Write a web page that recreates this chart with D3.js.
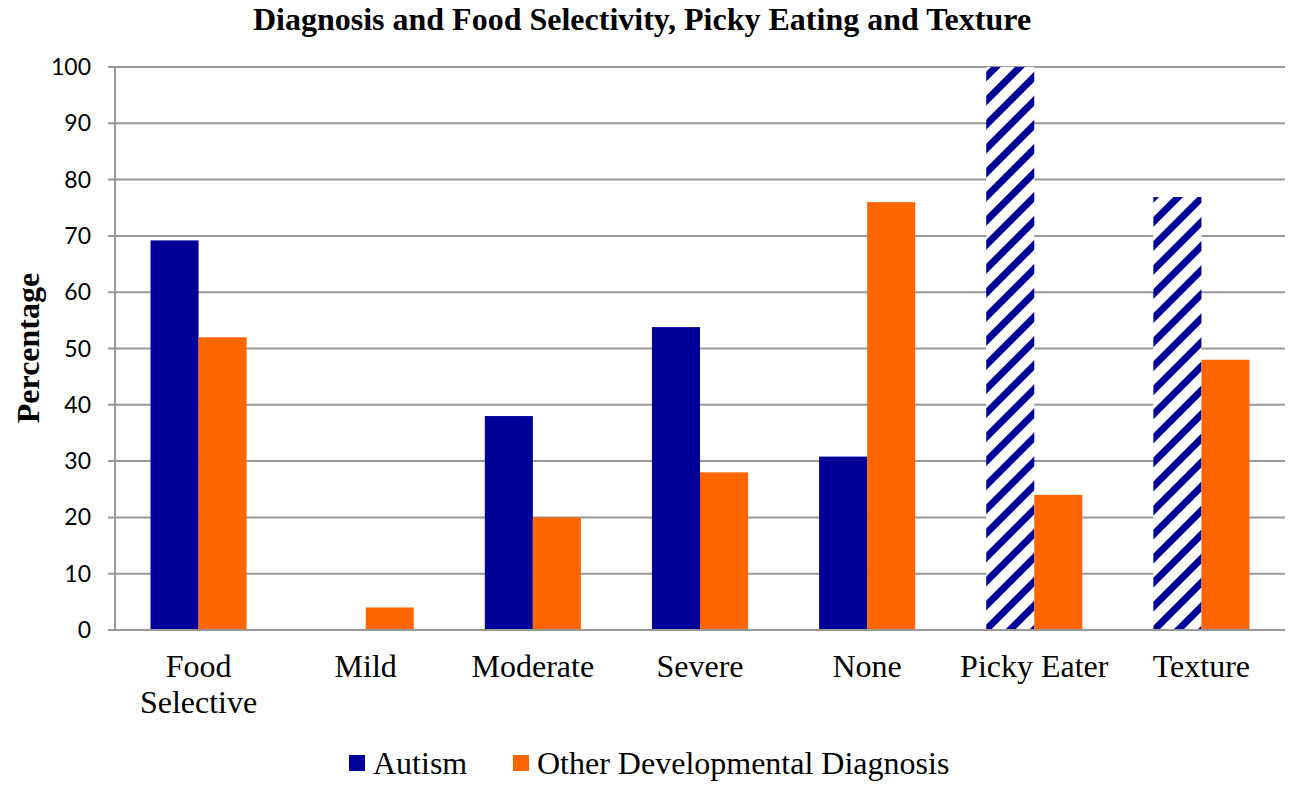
<!DOCTYPE html>
<html>
<head>
<meta charset="utf-8">
<script src="https://cdn.jsdelivr.net/npm/d3@7"></script>
<style>
  body { margin: 0; background: #fff; }
</style>
</head>
<body>
<svg id="chart" width="1291" height="792"></svg>
<script>
// data
var categories = [['Food', 'Selective'], ['Mild'], ['Moderate'], ['Severe'], ['None'], ['Picky Eater'], ['Texture']]
var autism = [69.2, 0, 38, 53.8, 30.8, 100, 76.9]
var other = [52, 4, 20, 28, 76, 24, 48]
// which autism bars are drawn hatched
var hatched = [false, false, false, false, false, true, true]
var yTicks = [0, 10, 20, 30, 40, 50, 60, 70, 80, 90, 100]

var colorAutism = '#000099'
var colorOther = '#ff6600'
var colorGrid = '#989898'
var serif = '"Liberation Serif", "Times New Roman", serif'

var margin = { left: 115, right: 6, top: 67, bottom: 162 }
var width = 1291, height = 792

var svg = d3.select('#chart')

// hatch pattern for the Picky Eater / Texture bars
var defs = svg.append('defs')
var pat = defs.append('pattern')
  .attr('id', 'hatch')
  .attr('patternUnits', 'userSpaceOnUse')
  .attr('width', 17).attr('height', 17)
  .attr('patternTransform', 'rotate(45)')
pat.append('rect').attr('width', 17).attr('height', 17).attr('fill', '#fff')
pat.append('rect').attr('x', 0).attr('width', 7).attr('height', 17).attr('fill', colorAutism)

var x = d3.scaleBand()
  .domain(d3.range(categories.length))
  .range([margin.left, width - margin.right])
  .paddingInner(0.425).paddingOuter(0.2125)

var y = d3.scaleLinear()
  .domain([0, 100])
  .range([height - margin.bottom, margin.top])

// gridlines
svg.append('g')
  .selectAll('line')
  .data(yTicks)
  .join('line')
  .attr('x1', margin.left - 7)
  .attr('x2', width - margin.right)
  .attr('y1', d => y(d))
  .attr('y2', d => y(d))
  .attr('stroke', colorGrid)
  .attr('stroke-width', 2)

// y tick labels
svg.append('g')
  .selectAll('text')
  .data(yTicks)
  .join('text')
  .attr('x', margin.left - 24)
  .attr('y', d => y(d))
  .attr('dy', '0.35em')
  .attr('text-anchor', 'end')
  .attr('font-family', 'Lato, "Open Sans", sans-serif')
  .attr('font-size', 23)
  .attr('fill', '#000')
  .text(d => d)

var bw = x.bandwidth() / 2

// autism bars
svg.append('g')
  .selectAll('rect')
  .data(autism)
  .join('rect')
  .attr('x', (d, i) => x(i))
  .attr('y', d => y(d))
  .attr('width', bw)
  .attr('height', d => y(0) - y(d))
  .attr('fill', (d, i) => hatched[i] ? 'url(#hatch)' : colorAutism)

// other bars
svg.append('g')
  .selectAll('rect')
  .data(other)
  .join('rect')
  .attr('x', (d, i) => x(i) + bw)
  .attr('y', d => y(d))
  .attr('width', bw)
  .attr('height', d => y(0) - y(d))
  .attr('fill', colorOther)

// y axis line
svg.append('line')
  .attr('x1', margin.left).attr('x2', margin.left)
  .attr('y1', y(100)).attr('y2', y(0))
  .attr('stroke', colorGrid).attr('stroke-width', 2)

// x axis line
svg.append('line')
  .attr('x1', margin.left - 7).attr('x2', width - margin.right)
  .attr('y1', y(0)).attr('y2', y(0))
  .attr('stroke', colorGrid).attr('stroke-width', 2)

// category labels
var labels = svg.append('g')
  .selectAll('text')
  .data(categories)
  .join('text')
  .attr('text-anchor', 'middle')
  .attr('font-family', serif)
  .attr('font-size', 32)
  .attr('fill', '#000')
labels.selectAll('tspan')
  .data((d, i) => d.map(s => ({ s: s, i: i })))
  .join('tspan')
  .attr('x', d => x(d.i) + x.bandwidth() / 2)
  .attr('y', (d, j) => 677 + j * 36)
  .text(d => d.s)

// title
svg.append('text')
  .attr('x', 642).attr('y', 30)
  .attr('text-anchor', 'middle')
  .attr('font-family', serif)
  .attr('font-weight', 'bold')
  .attr('font-size', 32)
  .text('Diagnosis and Food Selectivity, Picky Eating and Texture')

// y axis title
svg.append('text')
  .attr('transform', 'translate(39,348) rotate(-90)')
  .attr('text-anchor', 'middle')
  .attr('font-family', serif)
  .attr('font-weight', 'bold')
  .attr('font-size', 32)
  .text('Percentage')

// legend
var legendItems = [
  { label: 'Autism', color: colorAutism, x: 349 },
  { label: 'Other Developmental Diagnosis', color: colorOther, x: 513 }
]
var leg = svg.append('g')
  .selectAll('g')
  .data(legendItems)
  .join('g')
  .attr('transform', d => 'translate(' + d.x + ',755)')
leg.append('rect')
  .attr('width', 16).attr('height', 16)
  .attr('fill', d => d.color)
leg.append('text')
  .attr('x', 24).attr('y', 19)
  .attr('font-family', serif)
  .attr('font-size', 32)
  .text(d => d.label)
</script>
</body>
</html>
